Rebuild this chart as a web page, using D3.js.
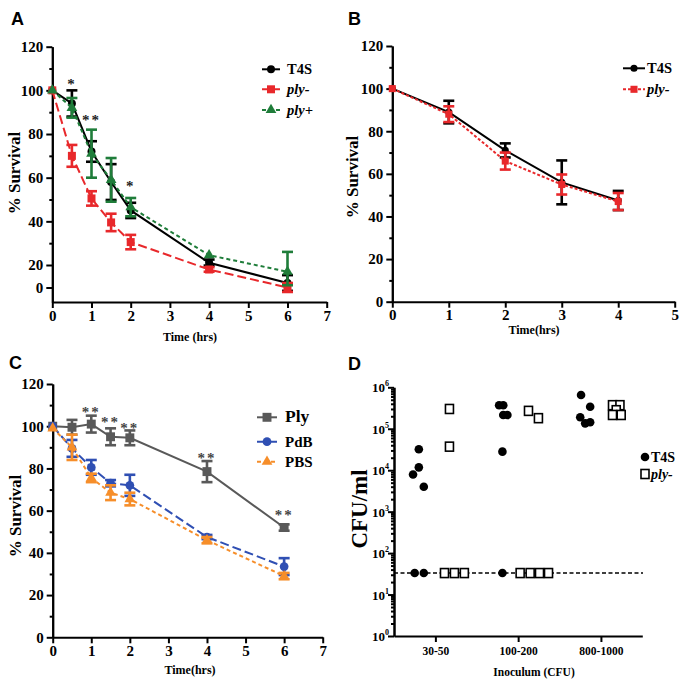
<!DOCTYPE html>
<html>
<head>
<meta charset="utf-8">
<script src="https://cdn.jsdelivr.net/npm/d3@7"></script>
<style>body{margin:0;background:#fff}</style>
</head>
<body>
<div id="chart"></div>
<script>
// ---- panel A: survival, T4S / ply- / ply+ ----
const timesA = [0, 0.5, 1, 1.5, 2, 4, 6];
const t4sA = [100, 94, 72, 58, 45, 21, 4];
const t4sErrA = [0, 6, 4.7, 8.2, 3.5, 1.5, 7];
const plyMinusA = [100, 70, 50.5, 39.5, 30.5, 16, 0];
const plyMinusErrA = [0, 5, 3.3, 4, 3.3, 2, 4];
const plyPlusA = [100, 92, 71, 59, 46.5, 24.5, 14];
const plyPlusErrA = [0, 4.5, 11, 10, 4.2, 0, 12];
const starTimesA = [0.5, 1, 2];
const starLabelsA = ["*", "**", "*"];
const starLevelsA = [100.5, 84, 54];
const yTicksA = [0, 20, 40, 60, 80, 100, 120];

// ---- panel B ----
const timesB = [0, 1, 2, 3, 4];
const t4sB = [100, 89, 71, 56, 47.5];
const t4sErrB = [0, 5.3, 3.3, 10.3, 4.5];
const plyMinusB = [100, 88, 66, 55, 47];
const plyMinusErrB = [0, 3.7, 4, 4.7, 4];

// ---- panel C ----
const timesC = [0, 0.5, 1, 1.5, 2, 4, 6];
const plyC = [100, 99.5, 101, 95, 94.5, 78.5, 52];
const plyErrC = [0, 3.5, 4, 4, 3.5, 5, 1.5];
const pdbC = [100, 89.5, 80.5, 73, 72, 47.5, 33.5];
const pdbErrC = [0, 4, 3.5, 1.5, 5, 1, 4];
const pbsC = [99, 90, 75.5, 68.5, 65.5, 46, 29];
const pbsErrC = [0, 6, 2, 3.5, 3, 1.5, 1.5];
const starTimesC = [1, 1.5, 2, 4, 6];
const starLevelsC = [104.5, 99.5, 97, 82.5, 55.5];

const yTicks = [0, 20, 40, 60, 80, 100, 120];

// ---- panel D: CFU/ml by inoculum ----
const groupsD = ["30-50", "100-200", "800-1000"];
const t4sD = [
  [3.2e4, 1.17e4, 7.9e3, 4.0e3, 33, 33],
  [3.7e5, 3.7e5, 2.15e5, 2.15e5, 2.8e4, 33],
  [6.5e5, 3.4e5, 1.9e5, 1.35e5, 1.44e5]
];
const t4sJitterD = [
  [-0.20, -0.20, -0.27, -0.14, -0.25, -0.14],
  [-0.23, -0.18, -0.18, -0.13, -0.19, -0.19],
  [-0.24, -0.13, -0.25, -0.19, -0.13]
];
const plyD = [
  [3.0e5, 3.7e4, 33, 33, 33],
  [2.7e5, 1.8e5, 33, 33, 33, 33],
  [3.7e5, 3.7e5, 2.8e5, 2.15e5, 2.15e5]
];
const plyJitterD = [
  [0.17, 0.17, 0.11, 0.23, 0.35],
  [0.125, 0.245, 0.024, 0.145, 0.258, 0.367],
  [0.14, 0.23, 0.185, 0.14, 0.245]
];
const detectionLimit = 33;
const exponentsD = [0, 1, 2, 3, 4, 5, 6];

const serif = "'Liberation Serif','Times New Roman',serif";
const sans = "'Liberation Sans',Arial,sans-serif";

const svg = d3.select("#chart").append("svg")
    .attr("width", 688).attr("height", 688)
    .style("background", "#fff");

function styleAxis(g, size) {
    g.select(".domain").attr("stroke", "#000").attr("stroke-width", 2);
    g.selectAll(".tick line").attr("stroke", "#000").attr("stroke-width", 2);
    g.selectAll(".tick text")
        .attr("font-family", serif).attr("font-weight", "bold")
        .attr("font-size", size || 15).attr("fill", "#000");
}

function boldText(g, x, y, txt, size, opts = {}) {
    return g.append("text")
        .attr("x", x).attr("y", y)
        .attr("font-family", opts.family || serif)
        .attr("font-weight", "bold")
        .attr("font-style", opts.italic ? "italic" : "normal")
        .attr("font-size", size)
        .attr("text-anchor", opts.anchor || "start")
        .attr("fill", opts.fill || "#000")
        .text(txt);
}

// generic survival panel
function survivalPanel(p) {
    const g = svg.append("g");
    const x = p.x, y = p.y;
    const x0 = x(0), yBase = y(y.domain()[0]);

    g.append("g").attr("transform", `translate(${x0},0)`)
        .call(d3.axisLeft(y).tickValues(p.minorY).tickSize(3).tickSizeOuter(0).tickFormat(""))
        .call(styleAxis);
    g.append("g").attr("transform", `translate(${x0},0)`)
        .call(d3.axisLeft(y).tickValues(p.yTicks).tickSize(6).tickSizeOuter(0).tickPadding(3).tickFormat(d3.format("d")))
        .call(styleAxis);
    g.append("g").attr("transform", `translate(0,${yBase})`)
        .call(d3.axisBottom(x).tickValues(p.xTicks).tickSize(6).tickSizeOuter(0).tickPadding(2).tickFormat(d3.format("d")))
        .call(styleAxis);

    p.series.forEach(s => {
        const pts = p.times.map((t, i) => ({ t, v: s.values[i], e: s.errors[i] }));
        g.append("path").datum(pts)
            .attr("fill", "none").attr("stroke", s.color).attr("stroke-width", 2)
            .attr("stroke-dasharray", s.dash || null)
            .attr("d", d3.line().x(d => x(d.t)).y(d => y(d.v)));
        const eb = g.append("g").attr("stroke", s.color).attr("stroke-width", 2.6);
        pts.filter(d => d.e > 0).forEach(d => {
            const cx = x(d.t), yt = y(d.v + d.e), yb = y(d.v - d.e);
            eb.append("line").attr("x1", cx).attr("x2", cx).attr("y1", yt).attr("y2", yb);
            eb.append("line").attr("x1", cx - 5.5).attr("x2", cx + 5.5).attr("y1", yt).attr("y2", yt);
            eb.append("line").attr("x1", cx - 5.5).attr("x2", cx + 5.5).attr("y1", yb).attr("y2", yb);
        });
        g.selectAll(null).data(pts).enter().append("path")
            .attr("transform", d => `translate(${x(d.t)},${y(d.v)})`)
            .attr("d", d3.symbol().type(s.symbol).size(s.size))
            .attr("fill", s.color);
    });

    // significance stars
    p.stars.forEach(st => {
        boldText(g, x(st.t), y(st.v), st.label, 15, { anchor: "middle", fill: p.starColor })
            .attr("letter-spacing", 2);
    });

    // legend
    p.series.forEach((s, i) => {
        const ly = p.legend.y[i];
        g.append("line").attr("x1", p.legend.x0).attr("x2", p.legend.x1)
            .attr("y1", ly).attr("y2", ly)
            .attr("stroke", s.color).attr("stroke-width", 2)
            .attr("stroke-dasharray", s.dash || null);
        g.append("path")
            .attr("transform", `translate(${(p.legend.x0 + p.legend.x1) / 2},${ly})`)
            .attr("d", d3.symbol().type(s.symbol).size(s.size))
            .attr("fill", s.color);
        boldText(g, p.legend.tx, ly + 5, s.name, s.legendSize || 14.5, { italic: s.italic });
    });

    // axis titles
    boldText(g, 0, 0, "% Survival", 17, { anchor: "middle" })
        .attr("transform", `translate(${p.yTitle[0]},${p.yTitle[1]}) rotate(-90)`);
    boldText(g, p.xTitle[0], p.xTitle[1], p.xTitleText, 12, { anchor: "middle" });
    boldText(g, p.letter[0], p.letter[1], p.letterText, 18, { family: sans });
}

const red = "#e8282b", green = "#1f7d3a", gray = "#595959", blue = "#2f4fb3", orange = "#f68e2a";

// ---- A ----
survivalPanel({
    x: d3.scaleLinear().domain([0, 7]).range([52.3, 326.7]),
    y: d3.scaleLinear().domain([-13, 0, 20, 120]).range([302, 287.5, 265, 46.7]),
    times: timesA,
    yTicks: yTicksA,
    minorY: [30, 50, 70, 90, 110],
    xTicks: d3.range(0, 8),
    series: [
        { name: "T4S", values: t4sA, errors: t4sErrA, color: "#000", symbol: d3.symbolCircle, size: 50 },
        { name: "ply-", values: plyMinusA, errors: plyMinusErrA, color: red, dash: "9,4", symbol: d3.symbolSquare, size: 64, italic: true },
        { name: "ply+", values: plyPlusA, errors: plyPlusErrA, color: green, dash: "4,3", symbol: d3.symbolTriangle, size: 50, italic: true }
    ],
    stars: starTimesA.map((t, i) => ({ t, label: starLabelsA[i], v: starLevelsA[i] })),
    starColor: "#222",
    legend: { x0: 262, x1: 280, tx: 287, y: [69.3, 89.3, 110] },
    yTitle: [20, 173],
    xTitle: [190, 341],
    xTitleText: "Time (hrs)",
    letter: [11, 25],
    letterText: "A"
});

// ---- B ----
survivalPanel({
    x: d3.scaleLinear().domain([0, 5]).range([392.3, 674.7]),
    y: d3.scaleLinear().domain([0, 120]).range([301.7, 46]),
    times: timesB,
    yTicks: yTicks,
    minorY: d3.range(10, 120, 20),
    xTicks: d3.range(0, 6),
    series: [
        { name: "T4S", values: t4sB, errors: t4sErrB, color: "#000", symbol: d3.symbolCircle, size: 40 },
        { name: "ply-", values: plyMinusB, errors: plyMinusErrB, color: red, dash: "3,2", symbol: d3.symbolSquare, size: 50, italic: true }
    ],
    stars: [],
    starColor: "#222",
    legend: { x0: 623, x1: 645, tx: 647, y: [68.3, 89.3] },
    yTitle: [358, 177],
    xTitle: [534, 334],
    xTitleText: "Time(hrs)",
    letter: [348, 25],
    letterText: "B"
});

// ---- C ----
survivalPanel({
    x: d3.scaleLinear().domain([0, 7]).range([52.7, 322.7]),
    y: d3.scaleLinear().domain([0, 120]).range([637.3, 384]),
    times: timesC,
    yTicks: yTicks,
    minorY: d3.range(10, 120, 20),
    xTicks: d3.range(0, 8),
    series: [
        { name: "Ply", values: plyC, errors: plyErrC, color: gray, symbol: d3.symbolSquare, size: 80, legendSize: 17.5 },
        { name: "PdB", values: pdbC, errors: pdbErrC, color: blue, dash: "9,4", symbol: d3.symbolCircle, size: 60, legendSize: 15 },
        { name: "PBS", values: pbsC, errors: pbsErrC, color: orange, dash: "4,3", symbol: d3.symbolTriangle, size: 50, legendSize: 15 }
    ],
    stars: starTimesC.map((t, i) => ({ t, label: "**", v: starLevelsC[i] })),
    starColor: "#444",
    legend: { x0: 257, x1: 277, tx: 285, y: [417.3, 441.7, 461.7] },
    yTitle: [21, 516],
    xTitle: [190, 674],
    xTitleText: "Time(hrs)",
    letter: [9, 369],
    letterText: "C"
});

// ---- D ----
(function () {
    const g = svg.append("g");
    const x = d3.scaleLinear().domain([-0.5, 2.5]).range([394, 642.3]);
    const y = d3.scaleLog().domain([1, 1e6]).range([636, 387.3]);

    const minor = [];
    exponentsD.slice(0, -1).forEach(e => { for (let m = 2; m <= 9; m++) minor.push(m * Math.pow(10, e)); });
    g.append("g").attr("transform", `translate(${x(-0.5)},0)`)
        .call(d3.axisLeft(y).tickValues(minor).tickSize(3).tickSizeOuter(0).tickFormat(""))
        .call(styleAxis);
    g.append("g").attr("transform", `translate(${x(-0.5)},0)`)
        .call(d3.axisLeft(y).tickValues(exponentsD.map(e => Math.pow(10, e))).tickSize(6).tickSizeOuter(0).tickFormat(""))
        .call(styleAxis);
    exponentsD.forEach(e => {
        const t = boldText(g, 389, y(Math.pow(10, e)) + 5, "10", 13, { anchor: "end" });
        t.append("tspan").attr("dy", -6).attr("font-size", 8).text(e);
    });
    g.append("g").attr("transform", `translate(0,${y(1)})`)
        .call(d3.axisBottom(x).tickValues([0, 1, 2]).tickSize(6).tickSizeOuter(0).tickPadding(5)
            .tickFormat(i => groupsD[i]))
        .call(styleAxis, 11.5);

    // detection limit
    g.append("line").attr("x1", x(-0.5)).attr("x2", 643)
        .attr("y1", y(detectionLimit)).attr("y2", y(detectionLimit))
        .attr("stroke", "#000").attr("stroke-width", 1.5).attr("stroke-dasharray", "4,2.5");

    t4sD.forEach((vals, gi) => {
        vals.forEach((v, j) => {
            g.append("circle").attr("cx", x(gi + t4sJitterD[gi][j])).attr("cy", y(v))
                .attr("r", 4.3).attr("fill", "#000");
        });
    });
    plyD.forEach((vals, gi) => {
        vals.forEach((v, j) => {
            g.append("rect").attr("x", x(gi + plyJitterD[gi][j]) - 4).attr("y", y(v) - 4.5)
                .attr("width", 8).attr("height", 9)
                .attr("fill", "#fff").attr("stroke", "#000").attr("stroke-width", 1.6);
        });
    });

    // legend
    g.append("circle").attr("cx", 645).attr("cy", 457).attr("r", 4.3).attr("fill", "#000");
    boldText(g, 651, 462, "T4S", 14);
    g.append("rect").attr("x", 641).attr("y", 469.5).attr("width", 8).attr("height", 9)
        .attr("fill", "#fff").attr("stroke", "#000").attr("stroke-width", 1.6);
    boldText(g, 651, 479, "ply-", 14, { italic: true });

    boldText(g, 0, 0, "CFU/ml", 23, { anchor: "middle" })
        .attr("transform", `translate(367,509) rotate(-90)`);
    boldText(g, 534, 676, "Inoculum (CFU)", 11.5, { anchor: "middle" });
    boldText(g, 348, 370, "D", 18, { family: sans });
})();
</script>
</body>
</html>
